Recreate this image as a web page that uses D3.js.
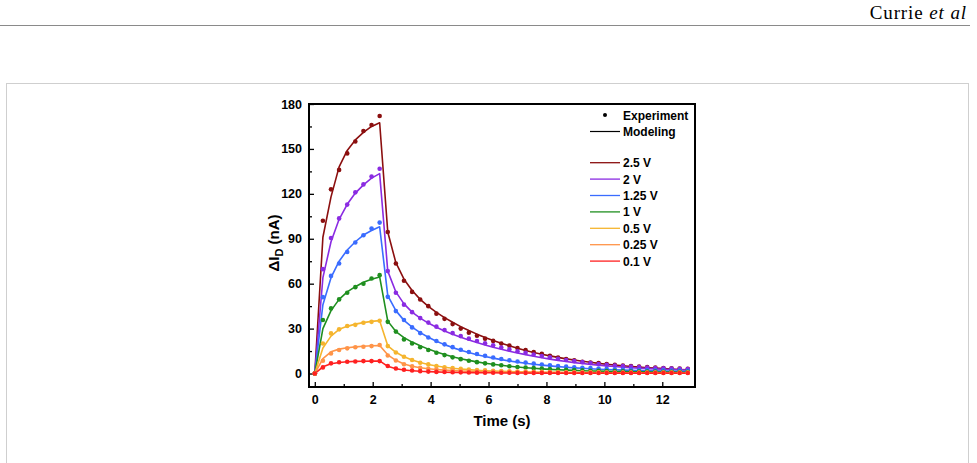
<!DOCTYPE html>
<html>
<head>
<meta charset="utf-8">
<script src="https://cdn.jsdelivr.net/npm/d3@7"></script>
<style>
  body { margin: 0; background: #fff; }
  svg text { font-family: "Liberation Sans", Arial, sans-serif; font-weight: bold; }
</style>
</head>
<body>
<div id="chart"></div>
<script>
// time axis: one sample every 0.28 s
const times = d3.range(47).map(k => +(k * 0.28).toFixed(2))

const seriesNames = ["2.5 V", "2 V", "1.25 V", "1 V", "0.5 V", "0.25 V", "0.1 V"]
const seriesColors = ["#8b0f0f", "#8a2be2", "#3a6cff", "#1f8f1f", "#f5b52e", "#ff9448", "#ff2020"]

// measured points (nA)
const exp25 = [0, 102, 123, 136, 147, 155, 162, 166, 172, 94.5, 73.5, 62, 54.5, 49.4, 45, 40, 36.5, 33, 30, 27.2, 25.2, 23.3, 21.8, 20, 18.6, 17, 15.7, 14.3, 13.2, 11.9, 10.6, 9.7, 8.8, 7.9, 7.4, 7, 6.3, 5.9, 5.4, 5, 4.6, 4.3, 4, 3.7, 3.5, 3.3, 3.1]
const exp20 = [0, 69.7, 90.5, 103.6, 112.8, 121, 126.3, 131.5, 136.8, 68.4, 53.9, 46, 41, 37, 34, 31.3, 29, 27, 25, 23.3, 21.7, 20.2, 18.8, 17.4, 16.1, 14.9, 13.8, 12.7, 11.7, 10.8, 9.9, 9, 8.3, 7.6, 7, 6.4, 5.9, 5.4, 5, 4.6, 4.3, 4, 3.7, 3.5, 3.3, 3.1, 3]
const exp125 = [0, 51, 65.2, 73.5, 81.2, 87.5, 92.3, 96.8, 100.8, 51.2, 41.7, 35.7, 30.8, 27, 24.1, 21.7, 19.5, 17.6, 15.9, 14.4, 13, 11.8, 10.7, 9.7, 8.8, 8, 7.3, 6.6, 6, 5.5, 5, 4.6, 4.2, 3.9, 3.6, 3.3, 3.1, 2.9, 2.7, 2.5, 2.4, 2.3, 2.2, 2.1, 2, 2, 1.9]
const exp10 = [0, 35.7, 43.5, 49.5, 53.9, 57.7, 60, 63.5, 65.7, 34.5, 28, 22.8, 20.1, 17.5, 15.7, 13.9, 12.3, 10.8, 9.6, 8.5, 7.6, 6.8, 6.1, 5.5, 4.9, 4.4, 4, 3.6, 3.3, 3, 2.7, 2.5, 2.3, 2.1, 1.9, 1.8, 1.7, 1.6, 1.5, 1.4, 1.4, 1.3, 1.3, 1.2, 1.2, 1.2, 1.1]
const exp05 = [0, 20.1, 26.8, 29.5, 31.7, 32.5, 33.9, 34.5, 35.2, 18.3, 14, 11.2, 9, 7.2, 6.1, 5, 4.2, 3.6, 3.1, 2.7, 2.4, 2.1, 1.9, 1.7, 1.5, 1.4, 1.3, 1.2, 1.1, 1, 1, 0.9, 0.9, 0.8, 0.8, 0.8, 0.7, 0.7, 0.7, 0.7, 0.6, 0.6, 0.6, 0.6, 0.6, 0.6, 0.6]
const exp025 = [0, 8.5, 13.4, 15.7, 16.8, 17.5, 17.9, 18.3, 19, 12, 8.7, 6.2, 4.8, 3.8, 3.2, 2.8, 2.5, 2.2, 1.9, 1.7, 1.5, 1.4, 1.3, 1.2, 1.1, 1, 0.9, 0.9, 0.8, 0.8, 0.7, 0.7, 0.7, 0.6, 0.6, 0.6, 0.6, 0.5, 0.5, 0.5, 0.5, 0.5, 0.5, 0.5, 0.5, 0.5, 0.5]
const exp01 = [0, 4.1, 6.8, 7.5, 7.9, 8, 8.3, 8.3, 8.3, 5, 3.4, 2.5, 2, 1.6, 1.3, 1.1, 1, 0.9, 0.8, 0.7, 0.6, 0.6, 0.5, 0.5, 0.5, 0.4, 0.4, 0.4, 0.4, 0.4, 0.3, 0.3, 0.3, 0.3, 0.3, 0.3, 0.3, 0.3, 0.3, 0.3, 0.3, 0.3, 0.3, 0.3, 0.3, 0.3, 0.3]

// modeled curves (nA)
const mod25 = [0, 91, 118, 138, 149, 156, 161, 165, 167.5, 94.5, 74, 63, 55.5, 49.5, 44.8, 40.8, 37.3, 34.2, 31.3, 28.7, 26.3, 24.1, 22.1, 20.2, 18.5, 16.9, 15.4, 14.1, 12.9, 11.8, 10.8, 9.8, 9, 8.2, 7.5, 6.8, 6.2, 5.7, 5.2, 4.7, 4.3, 3.9, 3.6, 3.3, 3, 2.7, 2.5]
const mod20 = [0, 64, 88, 103, 113, 120.5, 126, 130.5, 133.5, 68.4, 54.5, 46.5, 41, 37, 33.7, 30.9, 28.4, 26.2, 24.2, 22.4, 20.7, 19.1, 17.6, 16.2, 14.9, 13.7, 12.6, 11.5, 10.5, 9.6, 8.8, 8, 7.3, 6.7, 6.1, 5.6, 5.1, 4.7, 4.3, 3.9, 3.6, 3.3, 3.1, 2.9, 2.7, 2.5, 2.4]
const mod125 = [0, 46, 64, 75, 82.5, 88, 92.5, 95.5, 98, 52, 42, 35.5, 31, 27.3, 24.2, 21.6, 19.3, 17.3, 15.6, 14, 12.6, 11.4, 10.3, 9.3, 8.4, 7.6, 6.9, 6.2, 5.6, 5.1, 4.6, 4.2, 3.8, 3.5, 3.2, 2.9, 2.7, 2.5, 2.3, 2.1, 2, 1.9, 1.8, 1.7, 1.6, 1.5, 1.5]
const mod10 = [0, 30, 42, 49.5, 54.5, 58, 61, 63, 64.5, 35, 28, 24, 21, 18.5, 16.3, 14.4, 12.7, 11.2, 9.9, 8.8, 7.8, 6.9, 6.2, 5.5, 4.9, 4.4, 3.9, 3.5, 3.1, 2.8, 2.5, 2.3, 2.1, 1.9, 1.7, 1.6, 1.5, 1.4, 1.3, 1.2, 1.1, 1.1, 1, 1, 1, 0.9, 0.9]
const mod05 = [0, 17, 25, 29.5, 31.5, 33, 34, 34.8, 35.3, 18.5, 14.2, 11.2, 9, 7.3, 6, 5, 4.2, 3.5, 3, 2.6, 2.2, 1.9, 1.7, 1.5, 1.3, 1.2, 1.1, 1, 0.9, 0.8, 0.8, 0.7, 0.7, 0.6, 0.6, 0.6, 0.5, 0.5, 0.5, 0.5, 0.5, 0.4, 0.4, 0.4, 0.4, 0.4, 0.4]
const mod025 = [0, 10, 14.5, 16.3, 17.2, 17.8, 18.2, 18.5, 18.7, 12.5, 8.8, 6.4, 4.9, 3.9, 3.2, 2.7, 2.3, 2, 1.7, 1.5, 1.3, 1.2, 1.1, 1, 0.9, 0.8, 0.8, 0.7, 0.7, 0.6, 0.6, 0.6, 0.5, 0.5, 0.5, 0.5, 0.4, 0.4, 0.4, 0.4, 0.4, 0.4, 0.4, 0.4, 0.4, 0.4, 0.4]
const mod01 = [0, 4.5, 6.5, 7.4, 7.9, 8.1, 8.2, 8.3, 8.4, 4.8, 3.2, 2.4, 1.9, 1.5, 1.3, 1.1, 0.9, 0.8, 0.7, 0.6, 0.6, 0.5, 0.5, 0.4, 0.4, 0.4, 0.3, 0.3, 0.3, 0.3, 0.3, 0.3, 0.3, 0.3, 0.3, 0.3, 0.3, 0.3, 0.3, 0.3, 0.3, 0.3, 0.3, 0.3, 0.3, 0.3, 0.3]

const expData = [exp25, exp20, exp125, exp10, exp05, exp025, exp01]
const modData = [mod25, mod20, mod125, mod10, mod05, mod025, mod01]

const xTicks = [0, 2, 4, 6, 8, 10, 12]
const yTicks = [0, 30, 60, 90, 120, 150, 180]

const W = 977, H = 463
const svg = d3.select("#chart").append("svg")
    .attr("width", W)
    .attr("height", H)

// page header
svg.append("text")
    .attr("x", 967).attr("y", 19)
    .attr("text-anchor", "end")
    .style("font-family", "'Liberation Serif', serif")
    .style("font-weight", "normal")
    .style("font-size", "19px")
    .style("letter-spacing", "0.9px")
    .html('Currie <tspan font-style="italic">et al</tspan>')

svg.append("line")
    .attr("x1", 0).attr("x2", 970)
    .attr("y1", 25.5).attr("y2", 25.5)
    .attr("stroke", "#8a8a8a").attr("stroke-width", 1)

// figure box
svg.append("rect")
    .attr("x", 6.5).attr("y", 83.5)
    .attr("width", 962).attr("height", 400)
    .attr("fill", "none")
    .attr("stroke", "#cfcfcf")

// plot area
const margin = {left: 309, top: 104, right: 695, bottom: 387}

const x = d3.scaleLinear().domain([-0.2, 13.13]).range([margin.left, margin.right])
const y = d3.scaleLinear().domain([-9, 180]).range([margin.bottom, margin.top])

const xAxis = d3.axisBottom(x).tickValues(xTicks).tickSize(-5).tickPadding(8).tickFormat(d3.format("d"))
const yAxis = d3.axisLeft(y).tickValues(yTicks).tickSize(-5).tickPadding(7).tickFormat(d3.format("d"))

const gx = svg.append("g").attr("transform", `translate(0,${margin.bottom})`).call(xAxis)
const gy = svg.append("g").attr("transform", `translate(${margin.left},0)`).call(yAxis)

// minor ticks
svg.append("g").attr("transform", `translate(0,${margin.bottom})`)
    .call(d3.axisBottom(x).tickValues(d3.range(1, 13, 2)).tickSize(-3).tickFormat(""))
svg.append("g").attr("transform", `translate(${margin.left},0)`)
    .call(d3.axisLeft(y).tickValues(d3.range(15, 180, 30)).tickSize(-3).tickFormat(""))

svg.selectAll(".domain").remove()
svg.selectAll(".tick line").attr("stroke", "#000").attr("stroke-width", 1.3)
gx.selectAll("text").style("font-size", "12.5px").attr("fill", "#000")
gy.selectAll("text").style("font-size", "12.5px").attr("fill", "#000")

svg.append("rect")
    .attr("x", margin.left).attr("y", margin.top)
    .attr("width", margin.right - margin.left)
    .attr("height", margin.bottom - margin.top)
    .attr("fill", "none")
    .attr("stroke", "#000")
    .attr("stroke-width", 2)

// axis titles
svg.append("text")
    .attr("x", 502).attr("y", 426)
    .attr("text-anchor", "middle")
    .style("font-size", "15px")
    .text("Time (s)")

svg.append("text")
    .attr("transform", "translate(279,243) rotate(-90)")
    .attr("text-anchor", "middle")
    .style("font-size", "15px")
    .html('ΔI<tspan dy="4" font-size="11px">D</tspan><tspan dy="-4"> (nA)</tspan>')

// curves
const line = d3.line()
    .x((d, i) => x(times[i]))
    .y(d => y(d))

const plot = svg.append("g")

modData.forEach((vals, s) => {
    plot.append("path")
        .attr("d", line(vals))
        .attr("fill", "none")
        .attr("stroke", seriesColors[s])
        .attr("stroke-width", 1.6)
        .attr("stroke-linejoin", "round")
})

expData.forEach((vals, s) => {
    plot.selectAll(null)
        .data(vals)
        .enter()
        .append("circle")
        .attr("cx", (d, i) => x(times[i]))
        .attr("cy", d => y(d))
        .attr("r", 2.3)
        .attr("fill", seriesColors[s])
})

// legend
const legend = svg.append("g")
legend.append("circle").attr("cx", 605).attr("cy", 115).attr("r", 2).attr("fill", "#000")
legend.append("text").attr("x", 623).attr("y", 119.5).style("font-size", "12px").text("Experiment")
legend.append("line").attr("x1", 590).attr("x2", 620).attr("y1", 131.5).attr("y2", 131.5)
    .attr("stroke", "#000").attr("stroke-width", 1.2)
legend.append("text").attr("x", 623).attr("y", 136).style("font-size", "12px").text("Modeling")

seriesNames.forEach((name, s) => {
    const ly = 162.7 + s * 16.4
    legend.append("line").attr("x1", 590).attr("x2", 620).attr("y1", ly).attr("y2", ly)
        .attr("stroke", seriesColors[s]).attr("stroke-width", 1.3)
    legend.append("text").attr("x", 623).attr("y", ly + 4.5).style("font-size", "12px").text(name)
})
</script>
</body>
</html>
